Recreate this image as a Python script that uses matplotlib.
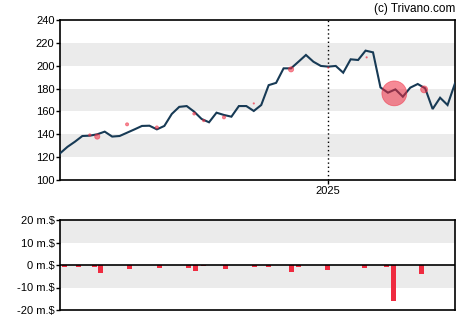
import numpy as np
import pandas as pd
import matplotlib
matplotlib.use("Agg")
import matplotlib.pyplot as plt
import matplotlib.dates as mdates

plt.rcParams["font.family"] = ["Liberation Sans", "DejaVu Sans"]

# weekly closing prices
START = "2024-04-24"
PRICES = [123.3, 129.0, 133.5, 138.5, 138.8, 140.0, 142.3, 138.0, 138.5, 141.4,
          144.3, 147.3, 147.5, 144.3, 147.3, 157.8, 164.0, 164.7, 159.8, 153.4,
          150.5, 158.9, 156.9, 155.4, 164.7, 164.7, 160.4, 165.6, 183.0, 185.0,
          197.7, 197.7, 203.5, 209.4, 203.5, 199.8, 199.2, 199.8, 193.9, 205.6,
          205.0, 213.2, 211.7, 181.0, 176.4, 179.3, 172.9, 180.8, 184.0, 180.2,
          162.1, 172.0, 165.6, 184.6]

# insider trades: date, price, marker size
TRADE_DATES = ["2024-05-22", "2024-05-29", "2024-06-26", "2024-07-24", "2024-08-28",
               "2024-09-06", "2024-09-25", "2024-10-23", "2024-11-27", "2025-01-01",
               "2025-02-06", "2025-03-04", "2025-04-01"]
TRADE_PRICES = [139.4, 138.0, 148.7, 146.0, 158.0, 152.0, 154.8, 167.0, 196.8, 198.3,
                207.3, 175.8, 179.3]
TRADE_SIZES = [3, 14, 5, 5, 4, 3, 5, 1, 14, 1, 1, 320, 25]

# net volume of trades, million $
VOL_DATES = ["2024-04-28", "2024-05-11", "2024-05-26", "2024-06-01", "2024-06-28",
             "2024-07-26", "2024-08-23", "2024-08-29", "2024-09-06", "2024-09-26",
             "2024-10-24", "2024-11-06", "2024-11-27", "2024-12-04", "2024-12-31",
             "2025-02-04", "2025-02-25", "2025-03-03", "2025-03-30"]
VOL_VALUES = [-0.7, -0.7, -0.7, -3.4, -1.6, -1.2, -1.2, -2.5, -0.5, -1.6,
              -0.7, -0.7, -3.0, -0.7, -2.1, -1.2, -0.7, -15.9, -3.9]

dates = pd.date_range(START, periods=len(PRICES), freq="7D")
trade_dates = pd.to_datetime(TRADE_DATES)
vol_dates = pd.to_datetime(VOL_DATES)

BAND = "#ebebeb"
LINE = "#173a55"
RED = "#ef2b40"

fig = plt.figure(figsize=(4.7, 3.25), dpi=100)
ax = fig.add_axes([60 / 470, 1 - 180 / 325, 395 / 470, 160 / 325])
ax2 = fig.add_axes([60 / 470, 1 - 310 / 325, 395 / 470, 90 / 325])

# price panel
for lo in (120, 160, 200):
    ax.axhspan(lo, lo + 20, color=BAND, lw=0, zorder=0)
ax.axvline(pd.Timestamp("2025-01-01"), color="black", lw=1, ls=(0, (1, 2)), zorder=1)
ax.plot(dates, PRICES, color=LINE, lw=1.5, zorder=3, solid_joinstyle="miter")
ax.scatter(trade_dates, TRADE_PRICES, s=TRADE_SIZES, color=RED, alpha=0.55,
           edgecolors=RED, linewidths=0.6, zorder=4)
ax.set_xlim(dates[0], dates[-1])
ax.set_ylim(100, 240)
ax.set_yticks(range(100, 241, 20))
ax.set_xticks([pd.Timestamp("2025-01-01")])
ax.xaxis.set_major_formatter(mdates.DateFormatter("%Y"))

# volume panel
ax2.axhspan(10, 20, color=BAND, lw=0, zorder=0)
ax2.axhspan(-10, 0, color=BAND, lw=0, zorder=0)
ax2.bar(vol_dates, VOL_VALUES, width=4.7, color=RED, zorder=2)
ax2.axhline(0, color="black", lw=1.2, zorder=3)
ax2.set_xlim(dates[0], dates[-1])
ax2.set_ylim(-20, 20)
ax2.set_yticks([-20, -10, 0, 10, 20])
ax2.set_yticklabels([f"{v} m.$" for v in (-20, -10, 0, 10, 20)])
ax2.set_xticks([])

for a in (ax, ax2):
    for s in a.spines.values():
        s.set_linewidth(1.2)
    a.tick_params(axis="both", labelsize=8, length=3, width=1, pad=1, colors="black")

fig.text(455 / 470, 1 - 9 / 325, "(c) Trivano.com", ha="right", va="center", fontsize=8.5)

fig.savefig("out.png", dpi=100)
